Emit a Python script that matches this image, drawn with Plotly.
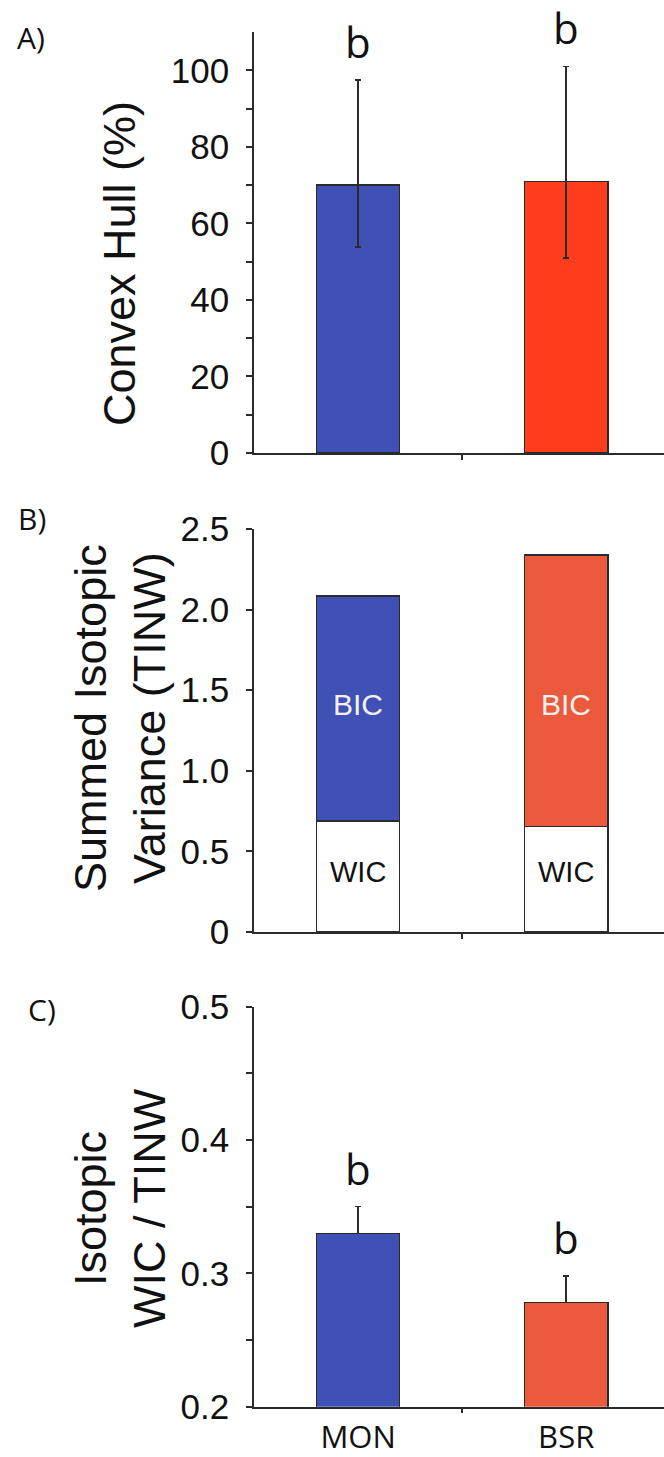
import plotly.graph_objects as go

# Sites compared in every panel
categories = ["MON", "BSR"]

# A) Convex hull area (%) with asymmetric error bars
hull_pct = [70.0, 71.0]
hull_err_up = [27.5, 30.0]
hull_err_down = [16.2, 20.0]
hull_letters = ["b", "b"]

# B) Summed isotopic variance (TINW) split into WIC and BIC
wic_var = [0.69, 0.655]
bic_var = [1.395, 1.683]

# C) Isotopic WIC / TINW ratio
ratio = [0.330, 0.278]
ratio_err = [0.020, 0.020]
ratio_letters = ["b", "b"]

# Tick labels
hull_ticks = [0, 20, 40, 60, 80, 100]
tinw_ticks = [0, 0.5, 1.0, 1.5, 2.0, 2.5]
tinw_ticktext = ["0", "0.5", "1.0", "1.5", "2.0", "2.5"]
ratio_ticks = [0.2, 0.3, 0.4, 0.5]

W, H = 664, 1457
BLUE = "#3F51B5"
RED_A = "#FF3C1C"
RED_BC = "#EB5A3D"
INK = "#2b2b2b"
ARIAL = "Liberation Sans, Arial, sans-serif"
SANS = "Open Sans, sans-serif"

xpos = list(range(len(categories)))


def py(px):
    return 1 - px / H


def px_x(px):
    return px / W


fig = go.Figure()

err_style = dict(color=INK, thickness=1.5, width=3)
bar_line = dict(color=INK, width=1.5)

# Panel A
fig.add_trace(go.Bar(
    x=xpos, y=hull_pct, width=0.4,
    marker=dict(color=[BLUE, RED_A], line=bar_line),
    error_y=dict(type="data", symmetric=False, array=hull_err_up,
                 arrayminus=hull_err_down, **err_style),
    xaxis="x", yaxis="y", showlegend=False,
))

# Panel B (stacked)
fig.add_trace(go.Bar(
    x=xpos, y=wic_var, width=0.4,
    marker=dict(color="white", line=bar_line),
    xaxis="x2", yaxis="y2", showlegend=False,
))
fig.add_trace(go.Bar(
    x=xpos, y=bic_var, width=0.4,
    marker=dict(color=[BLUE, RED_BC], line=bar_line),
    xaxis="x2", yaxis="y2", showlegend=False,
))

# Panel C
fig.add_trace(go.Bar(
    x=xpos, y=ratio, width=0.4,
    marker=dict(color=[BLUE, RED_BC], line=bar_line),
    error_y=dict(type="data", symmetric=False, array=ratio_err,
                 arrayminus=[0] * len(ratio), **err_style),
    xaxis="x3", yaxis="y3", showlegend=False,
))

xdom = [px_x(254), 1.0]
xrange_ = [-0.5, 1.47]

common_x = dict(
    domain=xdom, range=xrange_, tickvals=xpos, ticktext=["", ""],
    ticks="", showline=True, linecolor=INK, linewidth=1.5,
    showgrid=False, zeroline=False, automargin=False,
    minor=dict(tickvals=[0.5], ticks="outside", ticklen=5,
               tickcolor=INK, tickwidth=1.5, showgrid=False),
)
common_y = dict(
    showline=True, linecolor=INK, linewidth=1.5, ticks="outside",
    ticklen=6, tickcolor=INK, tickwidth=1.5, showgrid=False,
    zeroline=False, tickfont=dict(family=ARIAL, size=35, color="#111"),
    ticklabelstandoff=10, automargin=False,
)

fig.update_layout(
    width=W, height=H, margin=dict(l=0, r=0, t=0, b=0, pad=0),
    paper_bgcolor="white", plot_bgcolor="white", barmode="stack",
    xaxis=dict(anchor="y", **common_x),
    xaxis2=dict(anchor="y2", **common_x),
    xaxis3=dict(anchor="y3", **{**common_x, "ticktext": categories},
                tickfont=dict(family=SANS, size=31, color="#111"),
                ticklabelstandoff=2),
    yaxis=dict(anchor="x", domain=[py(453), py(32)], range=[0, 110],
               tickvals=hull_ticks,
               minor=dict(tickvals=[10, 30, 50, 70, 90], ticks="outside",
                          ticklen=6, tickcolor=INK, tickwidth=1.5,
                          showgrid=False),
               **common_y),
    yaxis2=dict(anchor="x2", domain=[py(932), py(529)], range=[0, 2.5],
                tickvals=tinw_ticks, ticktext=tinw_ticktext, **common_y),
    yaxis3=dict(anchor="x3", domain=[py(1406.7), py(1006.7)],
                range=[0.2, 0.5], tickvals=ratio_ticks,
                tickformat=".1f",
                minor=dict(tickvals=[0.25, 0.35, 0.45], ticks="outside",
                           ticklen=6, tickcolor=INK, tickwidth=1.5,
                           showgrid=False),
                **common_y),
)

ann = []

# Significance letters above the error bars
for i, (v, e, t) in enumerate(zip(hull_pct, hull_err_up, hull_letters)):
    ann.append(dict(x=xpos[i], y=v + e, xref="x", yref="y", text=t,
                    showarrow=False, yanchor="bottom", yshift=8,
                    font=dict(family=SANS, size=42, color="#111")))
for i, (v, e, t) in enumerate(zip(ratio, ratio_err, ratio_letters)):
    ann.append(dict(x=xpos[i], y=v + e, xref="x3", yref="y3", text=t,
                    showarrow=False, yanchor="bottom", yshift=8,
                    font=dict(family=SANS, size=42, color="#111")))

# Segment labels in panel B
for i in xpos:
    ann.append(dict(x=i, y=1.41, xref="x2", yref="y2", text="BIC",
                    showarrow=False,
                    font=dict(family=ARIAL, size=30, color="#f4f0f0")))
    ann.append(dict(x=i, y=0.37, xref="x2", yref="y2", text="WIC",
                    showarrow=False,
                    font=dict(family=ARIAL, size=29, color="#111")))

# Axis titles
titles = [
    ("Convex Hull (%)", 120, 264),
    ("Summed Isotopic<br>Variance (TINW)", 120, 718),
    ("Isotopic<br>WIC / TINW", 120, 1208),
]
for text, cx, cy in titles:
    ann.append(dict(x=px_x(cx), y=py(cy), xref="paper", yref="paper",
                    text=text, textangle=-90, showarrow=False,
                    xanchor="center", yanchor="middle",
                    font=dict(family=ARIAL, size=45, color="#111")))

# Panel letters
for text, cx, cy in [("A)", 31, 38), ("B)", 32, 518), ("C)", 42, 1010)]:
    ann.append(dict(x=px_x(cx), y=py(cy), xref="paper", yref="paper",
                    text=text, showarrow=False, xanchor="center",
                    yanchor="middle",
                    font=dict(family=SANS, size=30, color="#111")))

fig.update_layout(annotations=ann)

fig.write_html("out.html")
